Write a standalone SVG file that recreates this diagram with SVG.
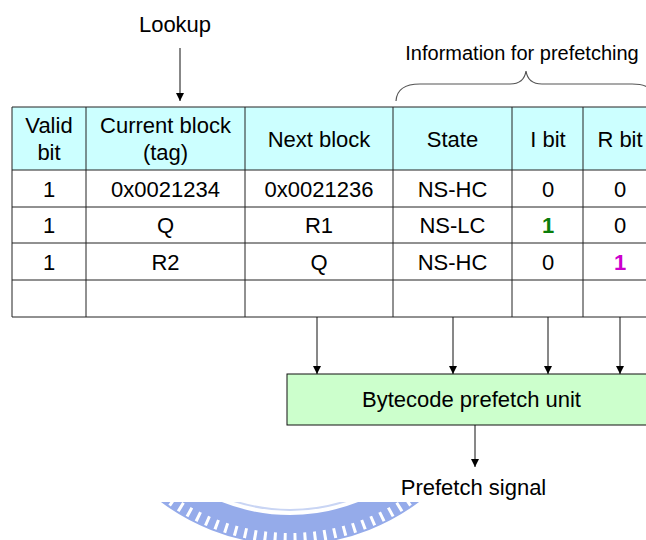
<svg xmlns="http://www.w3.org/2000/svg" width="646" height="540" viewBox="0 0 646 540">
<style>
  text { font-family: "Liberation Sans", Arial, sans-serif; fill: #000; text-anchor: middle; }
  .t { font-size: 22px; }
  .lbl { font-size: 22px; }
  .info { font-size: 20px; }
  .grid { stroke: #222; stroke-width: 1; fill: none; }
  .conn { stroke: #111; stroke-width: 1; fill: none; marker-end: url(#ah); }
  .b1 { font-weight: bold; }
</style>
<defs>
  <marker id="ah" markerUnits="userSpaceOnUse" markerWidth="8" markerHeight="8" refX="8" refY="4" orient="auto" viewBox="0 0 8 8">
    <path d="M0,0 L8,4 L0,8 z" fill="#000"/>
  </marker>
  <clipPath id="wm"><rect x="0" y="502" width="646" height="40"/></clipPath>
</defs>
<rect x="0" y="0" width="646" height="540" fill="#fff"/>
<g id="watermark" clip-path="url(#wm)">
  <circle cx="290" cy="330" r="200" fill="none" stroke="#95abea" stroke-width="30"/>
  <circle cx="290" cy="330" r="208" fill="none" stroke="#fff" stroke-width="10" stroke-dasharray="3 7"/>
  <circle cx="290" cy="330" r="180" fill="none" stroke="#c9d5f4" stroke-width="2"/>
</g>
<g id="lookup">
  <text class="lbl" x="175" y="32">Lookup</text>
</g>
<g id="info">
  <text class="info" x="522" y="60">Information for prefetching</text>
  <path d="M396,101 Q397,84 420,84 L510,84 Q524,84 526,71 Q528,84 542,84 L632,84 Q655,84 656,101" fill="none" stroke="#555" stroke-width="1.2"/>
</g>
<g id="table">
  <rect x="12" y="107" width="660" height="63" fill="#ccffff"/>
  <rect x="12" y="170" width="660" height="147" fill="#fff"/>
  <path class="grid" d="M12,107 H660 M12,170 H660 M12,207 H660 M12,243 H660 M12,280 H660 M12,317 H660 M12,107 V317 M86,107 V317 M245,107 V317 M393,107 V317 M512,107 V317 M583,107 V317"/>
  <text class="t" x="49" y="133">Valid</text>
  <text class="t" x="49" y="160">bit</text>
  <text class="t" x="165.5" y="133">Current block</text>
  <text class="t" x="165.5" y="160">(tag)</text>
  <text class="t" x="319" y="147">Next block</text>
  <text class="t" x="452.5" y="147">State</text>
  <text class="t" x="548" y="147">I bit</text>
  <text class="t" x="620" y="147">R bit</text>
  <text class="t" x="49" y="197">1</text>
  <text class="t" x="165.5" y="197">0x0021234</text>
  <text class="t" x="319" y="197">0x0021236</text>
  <text class="t" x="452.5" y="197">NS-HC</text>
  <text class="t" x="548" y="197">0</text>
  <text class="t" x="620" y="197">0</text>
  <text class="t" x="49" y="233">1</text>
  <text class="t" x="165.5" y="233">Q</text>
  <text class="t" x="319" y="233">R1</text>
  <text class="t" x="452.5" y="233">NS-LC</text>
  <text class="t b1" x="548" y="233" style="fill:#0a7d0a">1</text>
  <text class="t" x="620" y="233">0</text>
  <text class="t" x="49" y="270">1</text>
  <text class="t" x="165.5" y="270">R2</text>
  <text class="t" x="319" y="270">Q</text>
  <text class="t" x="452.5" y="270">NS-HC</text>
  <text class="t" x="548" y="270">0</text>
  <text class="t b1" x="620" y="270" style="fill:#cc00cc">1</text>
</g>
<g id="prefetch-unit">
  <rect x="287" y="374" width="380" height="51" fill="#ccffcc" stroke="#111" stroke-width="1"/>
  <text class="t" x="471.5" y="407">Bytecode prefetch unit</text>
</g>
<g id="prefetch-signal">
  <text class="t" x="473.5" y="495">Prefetch signal</text>
</g>
<g id="connectors">
  <line class="conn" x1="180" y1="48" x2="180" y2="101"/>
  <line class="conn" x1="317" y1="317" x2="317" y2="374"/>
  <line class="conn" x1="453" y1="317" x2="453" y2="374"/>
  <line class="conn" x1="548" y1="317" x2="548" y2="374"/>
  <line class="conn" x1="620" y1="317" x2="620" y2="374"/>
  <line class="conn" x1="475" y1="425" x2="475" y2="467"/>
</g>
</svg>
